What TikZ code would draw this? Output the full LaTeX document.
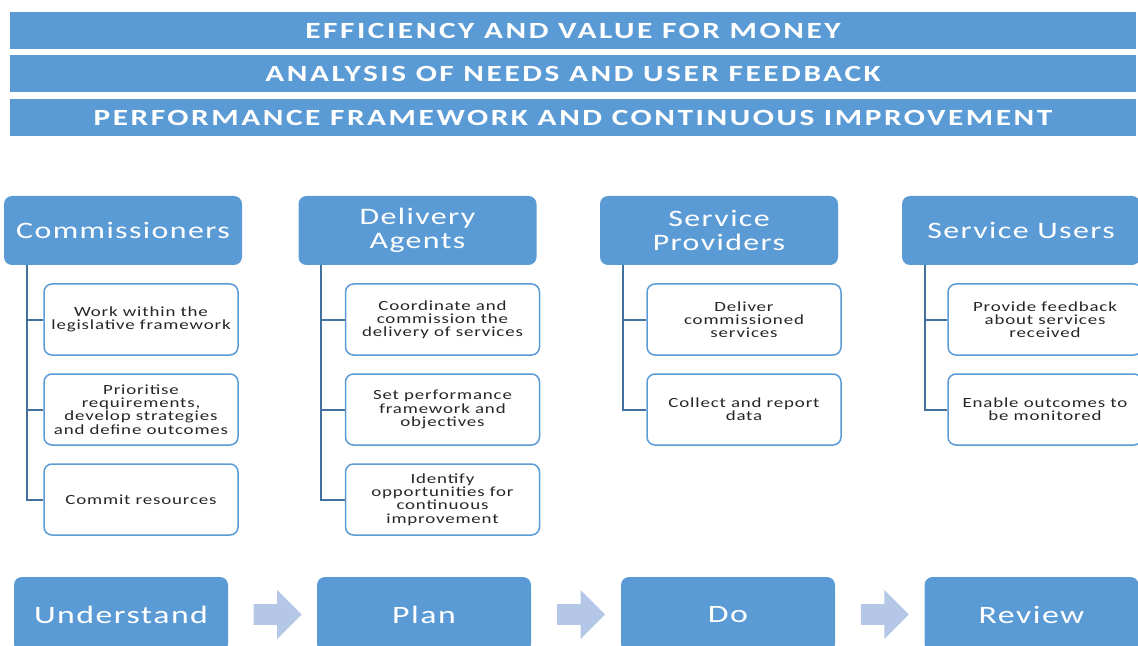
\documentclass[tikz,border=0pt]{standalone}
\usepackage{fontspec}
\setmainfont{Carlito}[FakeStretch=1.35,LetterSpace=6]
\usetikzlibrary{calc,shapes.arrows}
\definecolor{boxblue}{HTML}{5B9BD5}
\definecolor{linkblue}{HTML}{41719C}
\definecolor{paleblue}{HTML}{B4C7E7}
\definecolor{inktext}{HTML}{262626}
\tikzset{
	banner/.style={fill=boxblue, draw=none, minimum width=563pt, minimum height=18.5pt, text=white, font=\bfseries\fontsize{11.6pt}{12pt}\selectfont\addfontfeature{LetterSpace=11}},
	header/.style={fill=boxblue, draw=none, rounded corners=4pt, minimum width=119pt, minimum height=34.5pt, text=white, align=center, font=\fontsize{11.8pt}{11.8pt}\selectfont},
	task/.style={fill=white, draw=boxblue, line width=0.75pt, rounded corners=4pt, minimum width=97pt, minimum height=35.5pt, text=inktext, align=center, font=\fontsize{7pt}{6.6pt}\selectfont},
	phase/.style={fill=boxblue, draw=none, rounded corners=4pt, minimum width=107pt, minimum height=37.5pt, text=white, font=\fontsize{12.5pt}{13pt}\selectfont},
	link/.style={draw=linkblue, line width=1pt},
	flow/.style={single arrow, fill=paleblue, draw=none, minimum height=24pt, minimum width=16pt, inner xsep=0pt, inner ysep=5pt}
}
\begin{document}
\begin{tikzpicture}[x=0.5pt, y=-0.5pt]
		%%%%% START %%%%%
		\useasboundingbox (0, 0) rectangle (1138, 646);
		\clip (0, 0) rectangle (1138, 646);
		
		\node[banner] (money) at (573, 30.5) {EFFICIENCY AND VALUE FOR MONEY};
		\node[banner] (needs) at (573, 74) {ANALYSIS OF NEEDS AND USER FEEDBACK};
		\node[banner] (perf) at (573, 117.5) {PERFORMANCE FRAMEWORK AND CONTINUOUS IMPROVEMENT};
		
		% commissioners
		\node[header] (comm) at (123, 230.5) {Commissioners};
		\node[task] (comm1) at (141, 319.5) {Work within the\\legislative framework};
		\node[task] (comm2) at (141, 409.5) {Prioritise\\requirements,\\develop strategies\\and define outcomes};
		\node[task] (comm3) at (141, 499.5) {Commit resources};
		\coordinate (commtop) at (27, 265);
		\draw[link] (commtop) |- (comm3.west);
		\draw[link] (commtop |- comm1.west) -- (comm1.west);
		\draw[link] (commtop |- comm2.west) -- (comm2.west);
		
		% delivery agents
		\node[header] (agent) at (417.5, 230.5) {Delivery\\Agents};
		\node[task] (agent1) at (442.5, 319.5) {Coordinate and\\commission the\\delivery of services};
		\node[task] (agent2) at (442.5, 409.5) {Set performance\\framework and\\objectives};
		\node[task] (agent3) at (442.5, 499.5) {Identify\\opportunities for\\continuous\\improvement};
		\coordinate (agenttop) at (321, 265);
		\draw[link] (agenttop) |- (agent3.west);
		\draw[link] (agenttop |- agent1.west) -- (agent1.west);
		\draw[link] (agenttop |- agent2.west) -- (agent2.west);
		
		% service providers
		\node[header] (prov) at (719, 230.5) {Service\\Providers};
		\node[task] (prov1) at (744, 319.5) {Deliver\\commissioned\\services};
		\node[task] (prov2) at (744, 409.5) {Collect and report\\data};
		\coordinate (provtop) at (623, 265);
		\draw[link] (provtop) |- (prov2.west);
		\draw[link] (provtop |- prov1.west) -- (prov1.west);
		
		% service users
		\node[header] (user) at (1021, 230.5) {Service Users};
		\node[task] (user1) at (1045, 319.5) {Provide feedback\\about services\\received};
		\node[task] (user2) at (1045, 409.5) {Enable outcomes to\\be monitored};
		\coordinate (usertop) at (925, 265);
		\draw[link] (usertop) |- (user2.west);
		\draw[link] (usertop |- user1.west) -- (user1.west);
		
		% cycle
		\node[phase] (under) at (121, 614.5) {Understand};
		\node[phase] (plan) at (424, 614.5) {Plan};
		\node[phase] (do) at (728, 614.5) {Do};
		\node[phase] (review) at (1031.5, 614.5) {Review};
		\node[flow] (go1) at ($(under.east)!0.5!(plan.west)$) {};
		\node[flow] (go2) at ($(plan.east)!0.5!(do.west)$) {};
		\node[flow] (go3) at ($(do.east)!0.5!(review.west)$) {};
		%%%%% END %%%%%
	\end{tikzpicture}
\end{document}
